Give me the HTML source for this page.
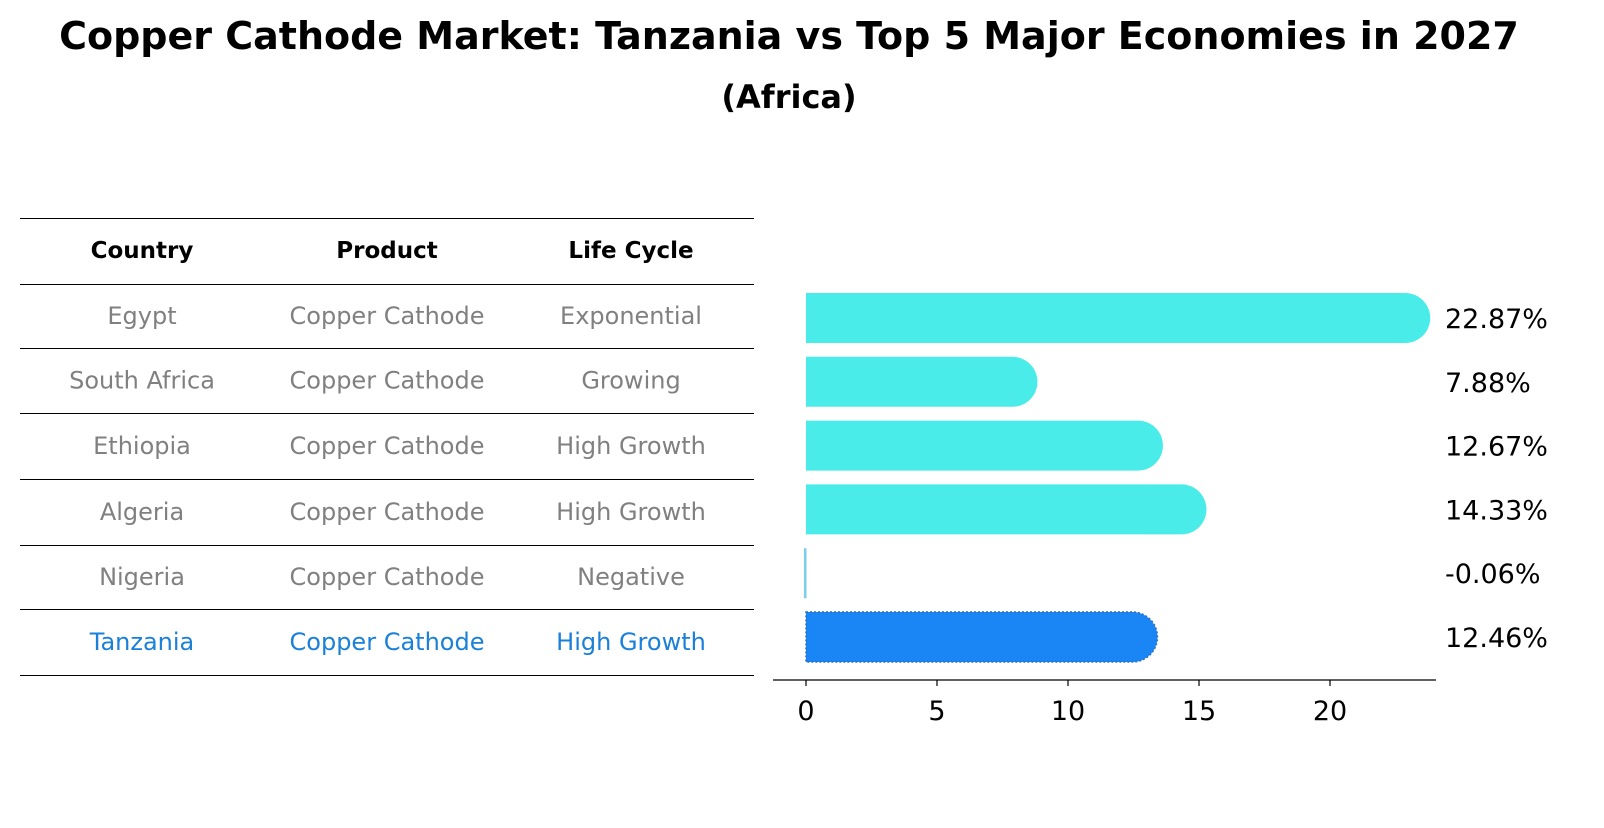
<!DOCTYPE html>
<html><head><meta charset="utf-8"><style>
body{margin:0;background:#fff;overflow:hidden;}
svg text{font-family:"DejaVu Sans","Liberation Sans",sans-serif;}
</style></head><body>
<svg width="1604" height="823" xmlns="http://www.w3.org/2000/svg">
<text x="789" y="49" text-anchor="middle" font-size="38" font-weight="bold">Copper Cathode Market: Tanzania vs Top 5 Major Economies in 2027</text>
<text x="789" y="108" text-anchor="middle" font-size="32" font-weight="bold">(Africa)</text>
<g id="table"></g>
<g id="bars"></g>
</svg>
<script>
const countries=["Egypt","South Africa","Ethiopia","Algeria","Nigeria","Tanzania"];
const products=["Copper Cathode","Copper Cathode","Copper Cathode","Copper Cathode","Copper Cathode","Copper Cathode"];
const lifeCycles=["Exponential","Growing","High Growth","High Growth","Negative","High Growth"];
const values=[22.87,7.88,12.67,14.33,-0.06,12.46];
const ticks=[0,5,10,15,20];
const NS="http://www.w3.org/2000/svg";
function mk(tag,attrs,parent,text){const e=document.createElementNS(NS,tag);for(const k in attrs)e.setAttribute(k,attrs[k]);if(text!==undefined)e.textContent=text;parent.appendChild(e);return e;}
const tbl=document.getElementById('table');
const lineYs=[218,284,348,413,479,545,609,675];
lineYs.forEach(y=>{const l=mk('line',{x1:20,x2:754,y1:y+0.5,y2:y+0.5,stroke:'#000','stroke-width':1},tbl);

});
const colX=[142,387,631];
["Country","Product","Life Cycle"].forEach((h,i)=>{const t=mk('text',{x:colX[i],y:258,'text-anchor':'middle','font-size':23,'font-weight':'bold'},tbl,h);

});
countries.forEach((c,r)=>{const y=(lineYs[r+1]+lineYs[r+2])/2+8;const col=c==="Tanzania"?'#1a80d8':'#808080';
[c,products[r],lifeCycles[r]].forEach((v,i)=>{const t=mk('text',{x:colX[i],y:y,'text-anchor':'middle','font-size':24,fill:col},tbl,v);

});});
const g=document.getElementById('bars');
const x0=806,pxPer=26.2;const X=v=>x0+v*pxPer;
const rowY=i=>318+i*63.8;const bh=50,rad=25;
values.forEach((v,i)=>{const cy=rowY(i);const isT=countries[i]==="Tanzania";const col=isT?'#1a85f5':'#4aece9';
let el;
if(v<=0){el=mk('rect',{x:X(Math.min(v,0))-0.5,y:cy-bh/2,width:Math.max(1.5,Math.abs(v)*pxPer+1),height:bh,fill:'#7ccfe8'},g);}
else{const w=X(v)-x0;el=mk('path',{d:`M${x0},${cy-bh/2} H${x0+w} A${rad},${rad} 0 0 1 ${x0+w},${cy+bh/2} H${x0} Z`,fill:col,stroke:isT?'#2a6fc0':'none','stroke-width':isT?1.5:0,'stroke-dasharray':isT?'2,2':'none'},g);}


const t=mk('text',{x:1445,y:cy+10,'font-size':27},g,v.toFixed(2)+'%');


});
const ax=mk('line',{x1:773,x2:1436,y1:680,y2:680,stroke:'#000','stroke-width':1.3},g);


ticks.forEach(v=>{const tl=mk('line',{x1:X(v),x2:X(v),y1:680,y2:686,stroke:'#000','stroke-width':1.2},g);


const t=mk('text',{x:X(v),y:720,'text-anchor':'middle','font-size':27},g,String(v));

});
</script>
</body></html>
